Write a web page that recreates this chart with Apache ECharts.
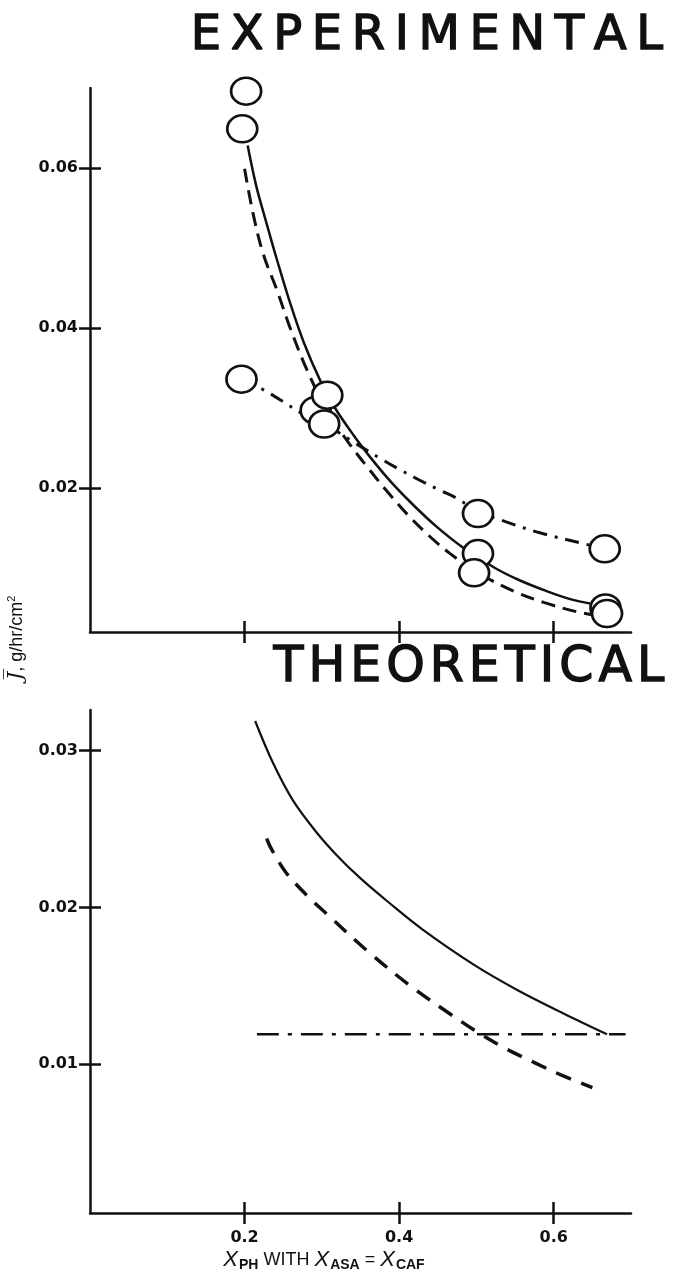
<!DOCTYPE html>
<html>
<head>
<meta charset="utf-8">
<script src="https://cdn.jsdelivr.net/npm/echarts@6/dist/echarts.min.js"></script>
<style>
  html, body { margin: 0; padding: 0; background: #ffffff; }
  #chart { width: 676px; height: 1277px; }
</style>
</head>
<body>
<div id="chart"></div>
<script>
// Tick values
const xTicks = [0.2, 0.4, 0.6];
const yTicksExp = [0.02, 0.04, 0.06];
const yTicksTheo = [0.01, 0.02, 0.03];

// Experimental: measured fluxes (open circles)
const expPointX = [0.202, 0.197, 0.196, 0.292, 0.307, 0.303, 0.502, 0.502, 0.497, 0.666, 0.667, 0.669];
const expPointY = [0.0696, 0.0649, 0.0336, 0.0297, 0.0316, 0.0280, 0.0168, 0.0118, 0.0094, 0.0124, 0.0050, 0.0043];

// Experimental: solid curve
const expSolidX = [0.204, 0.215, 0.229, 0.242, 0.259, 0.277, 0.299, 0.317, 0.341, 0.363, 0.390, 0.417, 0.448, 0.482, 0.524, 0.555, 0.591, 0.618, 0.654];
const expSolidY = [0.0628, 0.0578, 0.0529, 0.0485, 0.0431, 0.0381, 0.0332, 0.0300, 0.0266, 0.0238, 0.0207, 0.0180, 0.0152, 0.0126, 0.0100, 0.0085, 0.0071, 0.0062, 0.0054];

// Experimental: dashed curve
const expDashX = [0.200, 0.211, 0.224, 0.242, 0.259, 0.281, 0.305, 0.332, 0.359, 0.386, 0.4125, 0.439, 0.466, 0.500, 0.546, 0.587, 0.631, 0.660];
const expDashY = [0.0599, 0.0543, 0.0493, 0.0447, 0.0400, 0.0347, 0.0300, 0.0260, 0.0226, 0.0194, 0.0165, 0.0140, 0.0118, 0.0095, 0.0072, 0.0057, 0.0045, 0.0040];

// Experimental: dash-dot curve
const expDashDotX = [0.196, 0.222, 0.250, 0.2725, 0.300, 0.340, 0.379, 0.397, 0.426, 0.453, 0.473, 0.502, 0.5375, 0.582, 0.636, 0.666];
const expDashDotY = [0.0336, 0.0324, 0.0308, 0.0294, 0.0282, 0.0258, 0.0235, 0.0225, 0.0210, 0.0197, 0.0188, 0.0171, 0.0158, 0.0144, 0.0131, 0.0124];

// Theoretical: solid curve
const theoSolidX = [0.2137, 0.237, 0.263, 0.293, 0.318, 0.349, 0.387, 0.430, 0.498, 0.554, 0.614, 0.669];
const theoSolidY = [0.0319, 0.0292, 0.0268, 0.0248, 0.0234, 0.0219, 0.0203, 0.0186, 0.0163, 0.0147, 0.0132, 0.0119];

// Theoretical: dashed curve
const theoDashX = [0.2286, 0.235, 0.254, 0.280, 0.306, 0.3594, 0.417, 0.466, 0.5026, 0.5376, 0.575, 0.610, 0.650];
const theoDashY = [0.0244, 0.0237, 0.0222, 0.0208, 0.0196, 0.0172, 0.0149, 0.0132, 0.0120, 0.0110, 0.0101, 0.0093, 0.0085];

// Theoretical: dash-dot (constant) line
const theoDashDotX = [0.216, 0.693];
const theoDashDotY = [0.0119, 0.0119];

const INK = '#111111';
const pairs = (xs, ys) => xs.map((x, i) => [x, ys[i]]);
const spaced = (word, key) => word.split('').map(c => '{' + key + '|' + c + '}').join('');

const chart = echarts.init(document.getElementById('chart'), null, { renderer: 'canvas' });

const tickLabelStyle = {
  color: INK, fontFamily: 'DejaVu Sans', fontWeight: 'bold', fontSize: 16
};

function xAxisPair(gridIndex, showLabels) {
  return [
    {
      type: 'value', gridIndex, min: 0, max: 0.7, position: 'bottom',
      axisLine: { show: true, onZero: false, lineStyle: { color: INK, width: 2.5 } },
      axisTick: { show: true, customValues: xTicks, length: 11, lineStyle: { color: INK, width: 2.5 } },
      axisLabel: Object.assign({ show: showLabels, customValues: xTicks, margin: 17,
        formatter: v => v.toFixed(1) }, tickLabelStyle),
      splitLine: { show: false }
    },
    {
      type: 'value', gridIndex, min: 0, max: 0.7, position: 'bottom',
      axisLine: { show: false, onZero: false },
      axisTick: { show: true, inside: true, customValues: xTicks, length: 11, lineStyle: { color: INK, width: 2.5 } },
      axisLabel: { show: false },
      splitLine: { show: false }
    }
  ];
}

function yAxisPair(gridIndex, min, max, ticks) {
  return [
    {
      type: 'value', gridIndex, min, max, position: 'left',
      axisLine: { show: true, onZero: false, lineStyle: { color: INK, width: 2.5 } },
      axisTick: { show: true, customValues: ticks, length: 11, lineStyle: { color: INK, width: 2.5 } },
      axisLabel: Object.assign({ show: true, customValues: ticks, margin: 12,
        formatter: v => v.toFixed(2) }, tickLabelStyle),
      splitLine: { show: false }
    },
    {
      type: 'value', gridIndex, min, max, position: 'left',
      axisLine: { show: false, onZero: false },
      axisTick: { show: true, inside: true, customValues: ticks, length: 11, lineStyle: { color: INK, width: 2.5 } },
      axisLabel: { show: false },
      splitLine: { show: false }
    }
  ];
}

function curve(data, xi, yi, lineType, width) {
  return {
    type: 'line', xAxisIndex: xi, yAxisIndex: yi, data,
    smooth: 0.35, showSymbol: false, symbol: 'none', silent: true, z: 2,
    lineStyle: { color: INK, width, type: lineType, cap: 'butt' }
  };
}

// Stencil-like heading letters: regular face thickened with a thin outline
const headingLetter = (size, pad) => ({
  fontFamily: 'DejaVu Sans', fontSize: size, fill: INK,
  stroke: INK, lineWidth: 1.4, padding: [0, pad, 0, pad]
});

const option = {
  animation: false,
  backgroundColor: '#ffffff',
  grid: [
    { left: 90, top: 88, width: 541, height: 544 },
    { left: 90, top: 710, width: 541, height: 503 }
  ],
  xAxis: [...xAxisPair(0, false), ...xAxisPair(1, true)],
  yAxis: [...yAxisPair(0, 0.002, 0.070, yTicksExp), ...yAxisPair(1, 0.0005, 0.0326, yTicksTheo)],
  series: [
    curve(pairs(expSolidX, expSolidY), 0, 0, 'solid', 2.5),
    curve(pairs(expDashX, expDashY), 0, 0, [14, 8], 3),
    curve(pairs(expDashDotX, expDashDotY), 0, 0, [14, 8, 3, 8], 3),
    {
      type: 'scatter', xAxisIndex: 0, yAxisIndex: 0, z: 5,
      data: pairs(expPointX, expPointY),
      symbol: 'circle', symbolSize: [30, 27],
      itemStyle: { color: '#ffffff', borderColor: INK, borderWidth: 2.6, opacity: 1 }
    },
    curve(pairs(theoSolidX, theoSolidY), 2, 2, 'solid', 2.2),
    curve(pairs(theoDashX, theoDashY), 2, 2, [16, 11], 3.5),
    curve(pairs(theoDashDotX, theoDashDotY), 2, 2, [22, 9, 4, 9], 2.5)
  ],
  graphic: [
    {
      type: 'text', x: 186, y: 37,
      style: {
        text: spaced('EXPERIMENTAL', 'l'),
        align: 'left', verticalAlign: 'middle', textAlign: 'left', textVerticalAlign: 'middle',
        rich: { l: headingLetter(48, 4.8) }
      }
    },
    {
      type: 'text', x: 271, y: 668,
      style: {
        text: spaced('THEORETICAL', 'l'),
        align: 'left', verticalAlign: 'middle', textAlign: 'left', textVerticalAlign: 'middle',
        rich: { l: headingLetter(49, 2.5) }
      }
    },
    {
      type: 'text', x: 17, y: 638, rotation: Math.PI / 2,
      style: {
        text: '{j|J\u0305}{t|, g/hr/cm}{s|2}',
        align: 'center', verticalAlign: 'middle', textAlign: 'center', textVerticalAlign: 'middle',
        rich: {
          j: { fontFamily: 'DejaVu Serif', fontStyle: 'italic', fontSize: 21, fill: INK },
          t: { fontFamily: 'Liberation Sans', fontSize: 18, fill: INK },
          s: { fontFamily: 'Liberation Sans', fontSize: 11, fill: INK, padding: [0, 0, 11, 0] }
        }
      }
    },
    {
      type: 'text', x: 324, y: 1260,
      style: {
        text: '{x|X}{b|PH}{t| WITH }{x|X}{b|ASA}{t| = }{x|X}{b|CAF}',
        align: 'center', verticalAlign: 'middle', textAlign: 'center', textVerticalAlign: 'middle',
        rich: {
          x: { fontFamily: 'Liberation Sans', fontStyle: 'italic', fontSize: 22, fill: INK },
          b: { fontFamily: 'Liberation Sans', fontWeight: 'bold', fontSize: 14, fill: INK, padding: [10, 0, 0, 1] },
          t: { fontFamily: 'Liberation Sans', fontSize: 18, fill: INK }
        }
      }
    }
  ]
};

chart.setOption(option);
</script>
</body>
</html>
